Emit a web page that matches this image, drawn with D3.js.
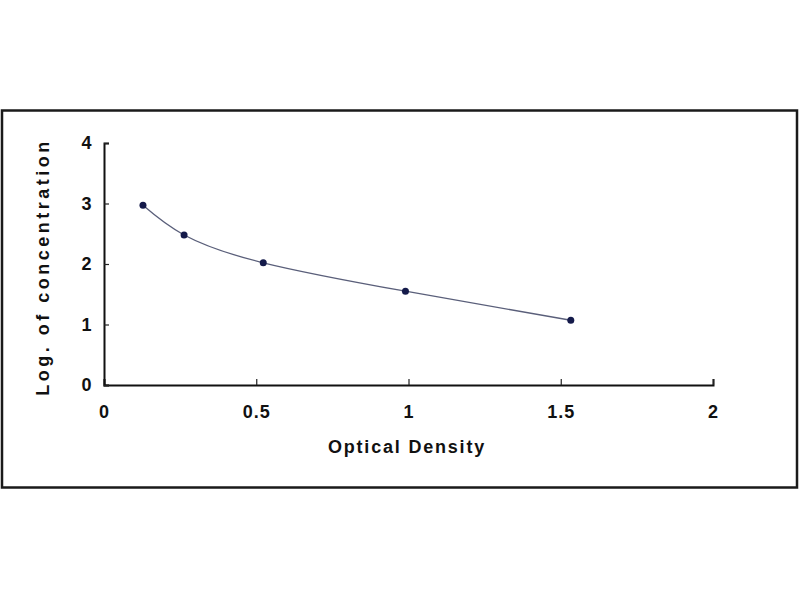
<!DOCTYPE html>
<html>
<head>
<meta charset="utf-8">
<script src="https://cdn.jsdelivr.net/npm/d3@7"></script>
<style>
  body { margin: 0; background: #fff; }
  text { font-family: "Liberation Sans", Arial, sans-serif; font-weight: bold; fill: #111; }
</style>
</head>
<body>
<div id="chart"></div>
<script>
// standard curve points
var opticalDensity = [0.128, 0.263, 0.523, 0.99, 1.533];
var logConcentration = [2.97, 2.48, 2.02, 1.55, 1.07];
var xTicks = [0, 0.5, 1, 1.5, 2];
var yTicks = [0, 1, 2, 3, 4];

const data = opticalDensity.map((d, i) => ({od: d, lc: logConcentration[i]}));

const margin = {top: 143, left: 104},
    width = 609,
    height = 242;

const svg = d3.select("#chart")
    .append("svg")
    .attr("width", 800)
    .attr("height", 600);

// outer frame
svg.append("rect")
    .attr("x", 2)
    .attr("y", 110.5)
    .attr("width", 795)
    .attr("height", 377)
    .attr("fill", "none")
    .attr("stroke", "#1a1a1a")
    .attr("stroke-width", 2.5);

const g = svg.append("g")
    .attr("transform", `translate(${margin.left},${margin.top})`);

const xScale = d3.scaleLinear()
    .domain([0, 2])
    .range([0, width]);

const yScale = d3.scaleLinear()
    .domain([0, 4])
    .range([height, 0]);

// axes, ticks pointing inward
const xAxis = d3.axisBottom(xScale).tickValues(xTicks).tickSize(-6).tickPadding(20)
    .tickFormat(d3.format("~g"));
const yAxis = d3.axisLeft(yScale).tickValues(yTicks).tickSize(-5).tickPadding(12)
    .tickFormat(d3.format("d"));

const xAxisGroup = g.append("g")
    .attr("transform", `translate(0, ${height})`)
    .call(xAxis);

const yAxisGroup = g.append("g")
    .call(yAxis);

[xAxisGroup, yAxisGroup].forEach(ax => {
    ax.select(".domain").attr("stroke", "#111").attr("stroke-width", 2);
    ax.selectAll(".tick line").attr("stroke", "#222").attr("stroke-width", 1.2);
    ax.selectAll(".tick text")
        .style("font-size", "18px")
        .style("font-family", "'Liberation Sans', Arial, sans-serif")
        .style("font-weight", "bold")
        .style("letter-spacing", "1px")
        .attr("fill", "#111");
});

// center the y labels like the original
yAxisGroup.selectAll(".tick text")
    .attr("x", -17)
    .style("text-anchor", "middle");

// fitted curve
g.append("path")
    .datum(data)
    .attr("fill", "none")
    .attr("stroke", "#5a5f7a")
    .attr("stroke-width", 1.3)
    .attr("d", d3.line()
        .x(d => xScale(d.od))
        .y(d => yScale(d.lc))
        .curve(d3.curveNatural));

// points
g.selectAll("circle")
    .data(data)
    .join("circle")
    .attr("cx", d => xScale(d.od))
    .attr("cy", d => yScale(d.lc))
    .attr("r", 3.5)
    .attr("fill", "#141a4a");

// axis titles
svg.append("text")
    .attr("x", 407)
    .attr("y", 453)
    .style("text-anchor", "middle")
    .style("font-size", "18px")
    .style("letter-spacing", "1.8px")
    .text("Optical Density");

svg.append("text")
    .attr("transform", "translate(49, 267) rotate(-90)")
    .style("text-anchor", "middle")
    .style("font-size", "18px")
    .style("letter-spacing", "3.5px")
    .text("Log. of concentration");
</script>
</body>
</html>
